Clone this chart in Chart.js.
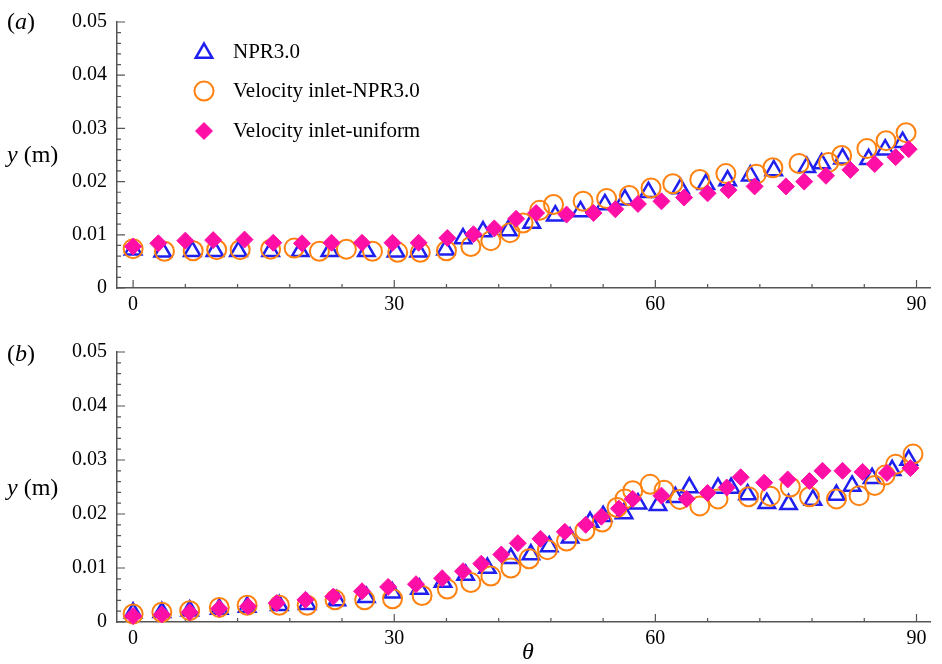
<!DOCTYPE html>
<html>
<head>
<meta charset="utf-8">
<script src="https://cdn.jsdelivr.net/npm/chart.js@4.4.0/dist/chart.umd.min.js"></script>
<style>
  body { margin: 0; background: #fff; width: 942px; height: 664px; position: relative; overflow: hidden;
         font-family: 'Liberation Serif', 'Times New Roman', serif; }
  canvas { position: absolute; left: 0; }
  .lbl { position: absolute; font-size: 24px; line-height: 24px; color: #000; white-space: nowrap; }
</style>
</head>
<body>
<canvas id="chartA" width="942" height="320" style="top:0"></canvas>
<canvas id="chartB" width="942" height="334" style="top:330px"></canvas>
<div class="lbl" style="left:7px;top:9px">(<i>a</i>)</div>
<div class="lbl" style="left:7px;top:142px"><i>y</i> (m)</div>
<div class="lbl" style="left:7px;top:341px">(<i>b</i>)</div>
<div class="lbl" style="left:7px;top:475px"><i>y</i> (m)</div>
<div class="lbl" style="left:522px;top:639px"><i>θ</i></div>
<script>
// tick labels
const thetaTicks = [0, 30, 60, 90];
const yTicks = [0, 0.01, 0.02, 0.03, 0.04, 0.05];
const seriesNames = ['NPR3.0', 'Velocity inlet-NPR3.0', 'Velocity inlet-uniform'];

// panel (a)
const aNprTheta = [0, 3.4, 6.8, 9.4, 12.1, 15.8, 19.2, 22.6, 26.8, 30.2, 32.8, 35.9, 37.9, 40.2, 43.1, 45.8, 48.5, 51.4, 54.2, 56.5, 59.2, 62.9, 65.8, 68.3, 70.9, 73.6, 77.4, 79.1, 81.5, 84.5, 86.4, 88.4];
const aNprY = [0.0072, 0.0068, 0.0069, 0.0069, 0.0069, 0.0069, 0.0069, 0.0069, 0.0069, 0.0068, 0.0068, 0.0072, 0.0093, 0.0106, 0.0108, 0.0122, 0.0136, 0.0144, 0.0157, 0.0166, 0.0180, 0.0187, 0.0195, 0.0202, 0.0211, 0.0221, 0.0227, 0.0234, 0.0243, 0.0242, 0.0260, 0.0274];
const aVinTheta = [0, 3.6, 6.9, 9.6, 12.3, 15.8, 18.5, 21.4, 24.5, 27.5, 30.4, 33.0, 36.0, 38.8, 41.1, 43.3, 44.8, 46.7, 48.3, 51.7, 54.4, 57.0, 59.5, 62.0, 65.1, 68.1, 71.6, 73.5, 76.5, 79.9, 81.4, 84.3, 86.5, 88.8];
const aVinY = [0.0074, 0.0069, 0.0070, 0.0072, 0.0072, 0.0073, 0.0075, 0.0069, 0.0073, 0.0069, 0.0067, 0.0067, 0.0070, 0.0078, 0.0089, 0.0104, 0.0122, 0.0146, 0.0157, 0.0163, 0.0168, 0.0174, 0.0188, 0.0196, 0.0204, 0.0215, 0.0214, 0.0226, 0.0234, 0.0236, 0.0249, 0.0262, 0.0277, 0.0292];
const aUniTheta = [0, 2.9, 6.0, 9.2, 12.8, 16.1, 19.4, 22.8, 26.3, 29.8, 32.8, 36.1, 39.1, 41.5, 44.0, 46.3, 49.8, 52.9, 55.4, 58.0, 60.7, 63.3, 66.0, 68.4, 71.4, 75.0, 77.1, 79.6, 82.4, 85.2, 87.6, 89.1];
const aUniY = [0.0078, 0.0084, 0.0089, 0.0090, 0.0091, 0.0085, 0.0084, 0.0085, 0.0085, 0.0085, 0.0085, 0.0094, 0.0101, 0.0112, 0.0130, 0.0141, 0.0138, 0.0141, 0.0148, 0.0158, 0.0163, 0.0170, 0.0178, 0.0184, 0.0191, 0.0191, 0.0200, 0.0211, 0.0222, 0.0233, 0.0246, 0.0261];

// panel (b)
const bNprTheta = [0, 3.3, 6.5, 9.9, 13.1, 16.8, 20.0, 23.4, 26.8, 29.8, 32.9, 35.6, 38.2, 40.7, 43.4, 45.7, 47.8, 50.2, 52.5, 54.0, 56.4, 58.0, 60.3, 62.3, 63.9, 67.2, 68.7, 70.6, 72.8, 75.3, 78.1, 80.8, 82.6, 84.9, 87.2, 89.1];
const bNprY = [0.0017, 0.0018, 0.0021, 0.0024, 0.0028, 0.0031, 0.0033, 0.0040, 0.0046, 0.0054, 0.0061, 0.0074, 0.0087, 0.0100, 0.0118, 0.0125, 0.0140, 0.0156, 0.0185, 0.0196, 0.0201, 0.0219, 0.0216, 0.0231, 0.0249, 0.0248, 0.0248, 0.0236, 0.0220, 0.0218, 0.0226, 0.0235, 0.0252, 0.0266, 0.0281, 0.0300];
const bVinTheta = [0, 3.3, 6.5, 9.9, 13.1, 16.8, 20.0, 23.2, 26.6, 29.8, 33.2, 36.1, 38.8, 41.1, 43.4, 45.5, 47.6, 49.8, 51.9, 53.9, 55.6, 56.5, 57.4, 59.4, 61.0, 62.8, 65.1, 67.2, 70.7, 73.2, 75.5, 77.7, 80.8, 83.4, 85.2, 86.4, 87.6, 89.6];
const bVinY = [0.0015, 0.0018, 0.0021, 0.0027, 0.0031, 0.0031, 0.0031, 0.0041, 0.0041, 0.0043, 0.0049, 0.0061, 0.0073, 0.0085, 0.0100, 0.0117, 0.0134, 0.0150, 0.0169, 0.0185, 0.0212, 0.0228, 0.0243, 0.0255, 0.0244, 0.0227, 0.0215, 0.0228, 0.0232, 0.0233, 0.0250, 0.0232, 0.0228, 0.0234, 0.0253, 0.0272, 0.0292, 0.0311];
const bUniTheta = [0, 3.3, 6.5, 9.9, 13.2, 16.5, 19.8, 23.0, 26.3, 29.3, 32.5, 35.5, 37.9, 40.0, 42.3, 44.2, 46.8, 49.6, 52.0, 53.8, 55.8, 57.4, 60.7, 63.6, 66.0, 68.2, 69.8, 72.5, 75.2, 77.7, 79.2, 81.5, 83.8, 86.6, 89.3];
const bUniY = [0.0011, 0.0014, 0.0018, 0.0025, 0.0029, 0.0035, 0.0041, 0.0047, 0.0057, 0.0065, 0.0070, 0.0081, 0.0094, 0.0108, 0.0125, 0.0146, 0.0154, 0.0167, 0.0180, 0.0195, 0.0210, 0.0228, 0.0234, 0.0228, 0.0239, 0.0249, 0.0268, 0.0258, 0.0264, 0.0261, 0.0280, 0.0280, 0.0278, 0.0276, 0.0285];

const blue = '#1f1ff0';
const orange = '#ff8210';
const magenta = '#ff0fa5';
const axisColor = '#555';
const fontFamily = "'Liberation Serif', 'Times New Roman', serif";

Chart.defaults.font.family = fontFamily;
Chart.defaults.color = '#000';

const pts = (xs, ys) => xs.map((x, i) => ({ x: x, y: ys[i] }));

const styles = [
  { pointStyle: 'triangle', pointRadius: 9.5, pointBorderWidth: 2.5, pointBorderColor: blue, pointBackgroundColor: 'rgba(0,0,0,0)', order: 3 },
  { pointStyle: 'circle', pointRadius: 9.5, pointBorderWidth: 2, pointBorderColor: orange, pointBackgroundColor: 'rgba(0,0,0,0)', order: 2 },
  { pointStyle: 'rectRot', pointRadius: 8.5, pointBorderWidth: 1, pointBorderColor: magenta, pointBackgroundColor: magenta, order: 1 }
];

function makeDatasets(series) {
  return series.map((s, i) => Object.assign({
    label: seriesNames[i],
    data: s,
    showLine: false,
    clip: false
  }, styles[i]));
}

// inward tick marks, minor every 6 deg / 0.002 m
const axisTicks = {
  id: 'axisTicks',
  beforeDatasetsDraw(chart) {
    const { ctx, chartArea: a } = chart;
    const x = chart.scales.x, y = chart.scales.y;
    ctx.save();
    ctx.strokeStyle = axisColor;
    ctx.lineWidth = 1.2;
    ctx.beginPath();
    for (let v = 0; v <= 90; v += 6) {
      const px = x.getPixelForValue(v);
      const len = v % 30 === 0 ? 8 : 4;
      ctx.moveTo(px, a.bottom);
      ctx.lineTo(px, a.bottom - len);
    }
    for (let i = 0; i <= 25; i++) {
      const py = y.getPixelForValue(i * 0.002);
      const len = i % 5 === 0 ? 8 : 4;
      ctx.moveTo(a.left, py);
      ctx.lineTo(a.left + len, py);
    }
    ctx.stroke();
    ctx.restore();
  }
};

// legend inside panel (a)
const insideLegend = {
  id: 'insideLegend',
  afterDatasetsDraw(chart) {
    if (chart.canvas.id !== 'chartA') return;
    const ctx = chart.ctx;
    const rows = [{ cy: 53, by: 58 }, { cy: 91, by: 97 }, { cy: 131, by: 137 }];
    chart.data.datasets.forEach((ds, i) => {
      ctx.save();
      ctx.fillStyle = ds.pointBackgroundColor;
      ctx.strokeStyle = ds.pointBorderColor;
      ctx.lineWidth = ds.pointBorderWidth;
      Chart.helpers.drawPoint(ctx, {
        pointStyle: ds.pointStyle, radius: ds.pointRadius, rotation: 0, borderWidth: ds.pointBorderWidth
      }, 204, rows[i].cy);
      ctx.fillStyle = '#000';
      ctx.font = '21px ' + fontFamily;
      ctx.textBaseline = 'alphabetic';
      ctx.fillText(ds.label, 233, rows[i].by);
      ctx.restore();
    });
  }
};

function makeChart(id, series, padTop, xAxisHeight) {
  return new Chart(document.getElementById(id), {
    type: 'scatter',
    data: { datasets: makeDatasets(series) },
    options: {
      responsive: false,
      animation: false,
      layout: { padding: { top: padTop, right: 0, left: 0, bottom: 0 } },
      plugins: { legend: { display: false }, tooltip: { enabled: false } },
      scales: {
        x: {
          type: 'linear',
          min: -1.85,
          max: 91.55,
          afterBuildTicks: s => { s.ticks = thetaTicks.map(v => ({ value: v })); },
          afterFit: s => { s.height = xAxisHeight; },
          ticks: { font: { size: 20 }, padding: 5, maxRotation: 0, callback: v => String(v) },
          grid: { display: true, drawOnChartArea: false, drawTicks: false },
          border: { display: true, color: axisColor, width: 1.5 }
        },
        y: {
          type: 'linear',
          min: 0,
          max: 0.05,
          afterBuildTicks: s => { s.ticks = yTicks.map(v => ({ value: v })); },
          afterFit: s => { s.width = 117; },
          ticks: { font: { size: 20 }, padding: 10, callback: v => (v === 0 ? '0' : v.toFixed(2)) },
          grid: { display: true, drawOnChartArea: false, drawTicks: false },
          border: { display: true, color: axisColor, width: 1.5 }
        }
      }
    },
    plugins: [axisTicks, insideLegend]
  });
}

makeChart('chartA', [pts(aNprTheta, aNprY), pts(aVinTheta, aVinY), pts(aUniTheta, aUniY)], 17, 32);
makeChart('chartB', [pts(bNprTheta, bNprY), pts(bVinTheta, bVinY), pts(bUniTheta, bUniY)], 21, 42);
</script>
</body>
</html>
